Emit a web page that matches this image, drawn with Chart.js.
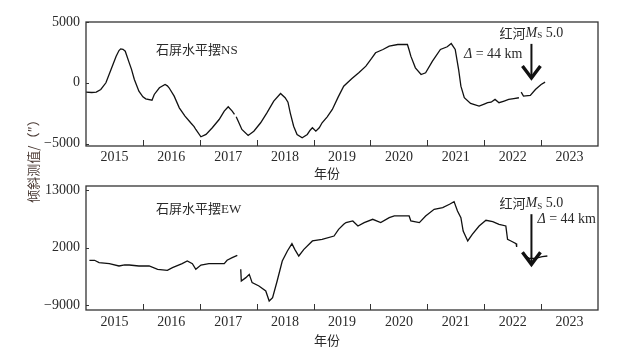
<!DOCTYPE html>
<html>
<head>
<meta charset="utf-8">
<script src="https://cdn.jsdelivr.net/npm/chart.js@4/dist/chart.umd.min.js"></script>
<style>
body { margin: 0; background: #fff; }
#wrap { position: relative; width: 637px; height: 356px; }
canvas { position: absolute; left: 0; top: 0; }
</style>
</head>
<body>
<div id="wrap">
<canvas id="nsChart" width="637" height="356"></canvas>
<canvas id="ewChart" width="637" height="356"></canvas>
</div>
<script>
// year labels sit on whole years, tick marks on half years
var yearLabels = [2015, 2016, 2017, 2018, 2019, 2020, 2021, 2022, 2023];
var halfYearTicks = [2015.5, 2016.5, 2017.5, 2018.5, 2019.5, 2020.5, 2021.5, 2022.5];
var quakeYear = 2022.33;

var nsTicks = [-5000, 0, 5000];
var ewTicks = [-9000, 2000, 13000];

// 石屏水平摆NS
var nsYears = [2014.50, 2014.60, 2014.68, 2014.76, 2014.85, 2014.94, 2015.03, 2015.08, 2015.11, 2015.15,
  2015.19, 2015.26, 2015.30, 2015.35, 2015.43, 2015.50, 2015.55, 2015.66, 2015.70, 2015.79,
  2015.89, 2015.93, 2015.96, 2016.05, 2016.14, 2016.24, 2016.34, 2016.40, 2016.43, 2016.52,
  2016.61, 2016.72, 2016.84, 2016.93, 2017.00, 2017.07, 2017.11, 2017.12, 2017.14, 2017.18,
  2017.24, 2017.35, 2017.45, 2017.57, 2017.68, 2017.80, 2017.92, 2018.00, 2018.05, 2018.09,
  2018.15, 2018.21, 2018.30, 2018.39, 2018.44, 2018.48, 2018.54, 2018.60, 2018.65, 2018.74,
  2018.83, 2018.93, 2019.03, 2019.17, 2019.30, 2019.42, 2019.52, 2019.59, 2019.72, 2019.83,
  2019.98, 2020.15, 2020.18, 2020.21, 2020.29, 2020.39, 2020.47, 2020.59, 2020.73, 2020.85,
  2020.92, 2020.99, 2021.05, 2021.09, 2021.15, 2021.26, 2021.41, 2021.50, 2021.56, 2021.62,
  2021.69, 2021.76, 2021.85, 2021.93, 2022.02, 2022.11, 2022.13, 2022.15, 2022.19, 2022.31,
  2022.40, 2022.50, 2022.57];
var nsValues = [-770, -800, -760, -550, 0, 1090, 2190, 2650, 2790, 2750,
  2600, 1640, 1100, 270, -690, -1150, -1320, -1430, -960, -410,
  -140, -250, -410, -1100, -2060, -2740, -3290, -3600, -3840, -4440,
  -4250, -3700, -3020, -2330, -1970, -2330, -2600, null, -2800, -3200,
  -3840, -4330, -3980, -3290, -2470, -1510, -880, -1230, -1600, -2470,
  -3570, -4250, -4520, -4250, -3900, -3700, -3980, -3700, -3290, -2800,
  -2190, -1200, -280, 330, 850, 1370, 2000, 2470, 2740, 3010,
  3150, 3150, 2700, 2190, 1230, 680, 820, 1780, 2740, 2960,
  3230, 2740, 1090, -280, -1230, -1700, -1920, -1750, -1640, -1600,
  -1370, -1640, -1500, -1370, -1300, -1230, null, -770, -1100, -1040,
  -550, -140, 50];

// 石屏水平摆EW
var ewYears = [2014.56, 2014.65, 2014.73, 2014.91, 2015.08, 2015.18, 2015.26, 2015.43, 2015.61, 2015.76,
  2015.93, 2016.02, 2016.19, 2016.28, 2016.37, 2016.43, 2016.52, 2016.66, 2016.81, 2016.93,
  2016.98, 2017.07, 2017.16, 2017.19, 2017.22, 2017.23, 2017.31, 2017.37, 2017.42, 2017.54,
  2017.66, 2017.72, 2017.78, 2017.86, 2017.95, 2018.04, 2018.12, 2018.17, 2018.24, 2018.33,
  2018.48, 2018.65, 2018.86, 2018.94, 2019.03, 2019.07, 2019.19, 2019.28, 2019.39, 2019.54,
  2019.68, 2019.83, 2019.92, 2020.18, 2020.21, 2020.36, 2020.47, 2020.62, 2020.77, 2020.89,
  2020.97, 2021.03, 2021.09, 2021.13, 2021.21, 2021.29, 2021.41, 2021.53, 2021.65, 2021.76,
  2021.88, 2021.91, 2021.97, 2022.06, 2022.07, 2022.13, 2022.20, 2022.29, 2022.40, 2022.52,
  2022.61];
var ewValues = [-430, -430, -880, -1070, -1520, -1300, -1330, -1520, -1520, -2160,
  -2350, -1830, -1070, -570, -1070, -2160, -1330, -1070, -1070, -1070,
  -430, 80, 520, null, -2160, -4400, -3750, -3120, -4700, -5360,
  -6310, -8230, -7580, -4400, -570, 1350, 2770, 1670, 390, 1670,
  3270, 3590, 4220, 5500, 6460, 6790, 7100, 6140, 6790, 7420,
  6790, 7750, 8060, 8060, 7100, 6790, 8060, 9340, 9660, 10300,
  10810, 9010, 7750, 5180, 3270, 4550, 6140, 7230, 6980, 6460,
  6140, 3590, 3270, 2770, 2120, null, 580, -50, -50, 280,
  390];

var serif = '"Liberation Serif", "Noto Sans CJK SC", serif';
var cjk = '"Noto Sans CJK SC", sans-serif';
var ink = '#2a2a2a';

function toPoints(xs, ys) {
  return xs.map(function (x, i) { return { x: x, y: ys[i] }; });
}

function fmt(v) {
  return v < 0 ? '\u2212' + Math.abs(v) : String(v);
}

// 红河Ms 5.0 centred on cx
function drawQuakeLabel(ctx, cx, cy) {
  var parts = [
    { t: '红河', f: '13px ' + cjk, dy: 0 },
    { t: 'M', f: 'italic 14px "Liberation Serif"', dy: 0 },
    { t: 'S', f: '9px "Liberation Serif"', dy: 3 },
    { t: ' 5.0', f: '14px "Liberation Serif"', dy: 0 }
  ];
  var total = 0;
  parts.forEach(function (p) { ctx.font = p.f; p.w = ctx.measureText(p.t).width; total += p.w; });
  var x = cx - total / 2;
  ctx.textAlign = 'left';
  ctx.textBaseline = 'middle';
  parts.forEach(function (p) { ctx.font = p.f; ctx.fillText(p.t, x, cy + p.dy); x += p.w; });
}

function drawDelta(ctx, x, y, align) {
  ctx.font = 'italic 14px "Liberation Serif"';
  var w1 = ctx.measureText('\u0394').width;
  ctx.font = '14px "Liberation Serif"';
  var w2 = ctx.measureText(' = 44 km').width;
  var start = align === 'right' ? x - w1 - w2 : x;
  ctx.textAlign = 'left';
  ctx.textBaseline = 'middle';
  ctx.font = 'italic 14px "Liberation Serif"';
  ctx.fillText('\u0394', start, y);
  ctx.font = '14px "Liberation Serif"';
  ctx.fillText(' = 44 km', start + w1, y);
}

var panelPlugin = {
  id: 'panel',
  afterDraw: function (chart, args, o) {
    var ctx = chart.ctx, a = chart.chartArea;
    var xs = chart.scales.x, ys = chart.scales.y;
    ctx.save();
    // frame
    ctx.strokeStyle = '#333';
    ctx.lineWidth = 1.3;
    ctx.strokeRect(a.left, a.top, a.right - a.left, a.bottom - a.top);
    // inward tick marks
    ctx.lineWidth = 1;
    ctx.beginPath();
    halfYearTicks.forEach(function (v) {
      var px = Math.round(xs.getPixelForValue(v)) + 0.5;
      ctx.moveTo(px, a.bottom);
      ctx.lineTo(px, a.bottom - 6);
    });
    o.yTicks.forEach(function (v) {
      var py = Math.round(ys.getPixelForValue(v)) + 0.5;
      ctx.moveTo(a.left, py);
      ctx.lineTo(a.left + 3, py);
    });
    ctx.stroke();

    ctx.fillStyle = ink;
    // panel title
    ctx.font = '13px ' + serif;
    ctx.textAlign = 'left';
    ctx.textBaseline = 'middle';
    ctx.fillText(o.title, a.left + 70, a.top + o.titleDy);
    // axis title
    ctx.font = '13px ' + cjk;
    ctx.textAlign = 'center';
    ctx.fillText('年份', 327, a.bottom + o.xTitleDy);

    // earthquake arrow
    var qx = xs.getPixelForValue(quakeYear);
    var y0 = ys.getPixelForValue(o.arrowFrom), y1 = ys.getPixelForValue(o.arrowTo);
    ctx.strokeStyle = '#111';
    ctx.lineWidth = 2;
    ctx.beginPath();
    ctx.moveTo(qx, y0);
    ctx.lineTo(qx, y1 - 2);
    ctx.stroke();
    ctx.lineWidth = 3.4;
    ctx.lineJoin = 'miter';
    ctx.beginPath();
    ctx.moveTo(qx - 9, y1 - 12);
    ctx.lineTo(qx, y1);
    ctx.lineTo(qx + 9, y1 - 12);
    ctx.stroke();

    ctx.fillStyle = ink;
    drawQuakeLabel(ctx, qx, y0 - 11);
    if (o.deltaSide === 'left') drawDelta(ctx, qx - 9, y0 + 10, 'right');
    else drawDelta(ctx, qx + 6, y0 + 5, 'left');

    // shared y-axis title
    if (o.yTitle) {
      ctx.save();
      ctx.translate(33, 158);
      ctx.rotate(-Math.PI / 2);
      ctx.fillStyle = '#4a3a34';
      ctx.font = '13px ' + cjk;
      ctx.textAlign = 'center';
      ctx.textBaseline = 'middle';
      ctx.fillText(o.yTitle, 0, 0);
      ctx.restore();
    }
    ctx.restore();
  }
};

function makePanel(id, years, values, yTicks, yMin, yMax, padTop, padBottom, xHeight, extra) {
  var opts = Object.assign({ yTicks: yTicks }, extra);
  return new Chart(document.getElementById(id), {
    type: 'line',
    data: {
      datasets: [{
        data: toPoints(years, values),
        borderColor: '#111',
        borderWidth: 1.3,
        pointRadius: 0,
        tension: 0,
        spanGaps: false,
        fill: false
      }]
    },
    options: {
      responsive: false,
      animation: false,
      devicePixelRatio: 1,
      layout: { padding: { top: padTop, right: 39, bottom: padBottom, left: 0 } },
      plugins: { legend: { display: false }, tooltip: { enabled: false }, panel: opts },
      scales: {
        x: {
          type: 'linear',
          min: 2014.5,
          max: 2023.5,
          grid: { display: false, drawTicks: false, tickLength: 0 },
          border: { display: false },
          afterBuildTicks: function (s) { s.ticks = yearLabels.map(function (v) { return { value: v }; }); },
          afterFit: function (s) { s.height = xHeight; },
          ticks: {
            padding: extra.xPad,
            color: ink,
            font: { family: '"Liberation Serif"', size: 14 },
            maxRotation: 0,
            autoSkip: false,
            callback: function (v) { return String(v); }
          }
        },
        y: {
          min: yMin,
          max: yMax,
          grid: { display: false, drawTicks: false, tickLength: 0 },
          border: { display: false },
          afterBuildTicks: function (s) { s.ticks = yTicks.map(function (v) { return { value: v }; }); },
          afterFit: function (s) { s.width = 86; },
          ticks: {
            padding: 6,
            color: ink,
            font: { family: '"Liberation Serif"', size: 14 },
            callback: function (v) { return fmt(v); }
          }
        }
      }
    },
    plugins: [panelPlugin]
  });
}

makePanel('nsChart', nsYears, nsValues, nsTicks, -5200, 5000, 22, 178, 32, {
  title: '石屏水平摆NS', titleDy: 29, xTitleDy: 27, xPad: 3,
  arrowFrom: 3200, arrowTo: 400, deltaSide: 'left',
  yTitle: '倾斜测值/（″）'
});
makePanel('ewChart', ewYears, ewValues, ewTicks, -9950, 13800, 186, 0, 46, {
  title: '石屏水平摆EW', titleDy: 24, xTitleDy: 30, xPad: 4,
  arrowFrom: 8400, arrowTo: -1200, deltaSide: 'right'
});
</script>
</body>
</html>
